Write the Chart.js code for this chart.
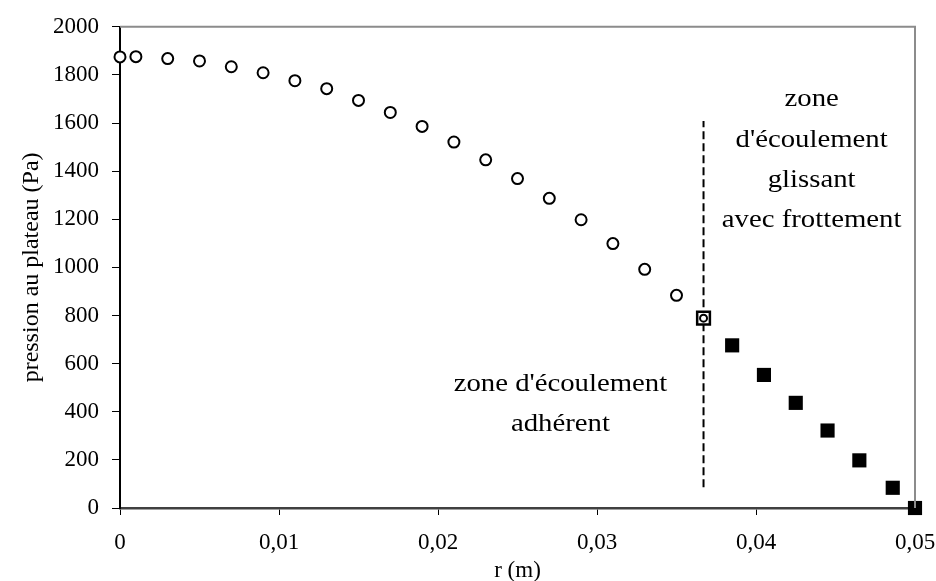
<!DOCTYPE html>
<html lang="fr">
<head>
<meta charset="UTF-8">
<title>pression au plateau</title>
<style>
  html, body { margin:0; padding:0; background:#fff; }
  #wrap { width:936px; height:581px; }
</style>
</head>
<body>
<div id="wrap"><canvas id="chart" width="936" height="581"></canvas></div>
<script src="https://cdn.jsdelivr.net/npm/chart.js"></script>
<script>
// zone adhérente (cercles)
const circleR = [0, 0.001, 0.003, 0.005, 0.007, 0.009, 0.011, 0.013, 0.015, 0.017, 0.019, 0.021, 0.023, 0.025, 0.027, 0.029, 0.031, 0.033, 0.035];
const circleP = [1875, 1876, 1868, 1858, 1834, 1809, 1776, 1743, 1694, 1644, 1586, 1521, 1447, 1369, 1287, 1198, 1099, 992, 884];
// point de transition
const transR = [0.0367];
const transP = [789];
// zone glissante (carrés)
const squareR = [0.0385, 0.0405, 0.0425, 0.0445, 0.0465, 0.0486, 0.05];
const squareP = [676, 553, 437, 322, 198, 84, 0];
// séparation des zones
const limitR = [0.0367, 0.0367];
const limitP = [86, 1608];

const xTicks = [0, 0.01, 0.02, 0.03, 0.04, 0.05];
const xTickLabels = ['0', '0,01', '0,02', '0,03', '0,04', '0,05'];

const serif = "'Liberation Serif', 'DejaVu Serif', serif";
const pts = (xs, ys) => xs.map((x, i) => ({ x: x, y: ys[i] }));

// texte un peu étiré en largeur, comme dans l'original
function wideText(ctx, t, x, y) {
  ctx.save();
  ctx.translate(x, y);
  ctx.scale(1.15, 1);
  ctx.fillText(t, 0, 0);
  ctx.restore();
}

// cadre haut/droite gris + textes des zones
const framePlugin = {
  id: 'frame',
  afterDraw(chart) {
    const { ctx, chartArea: a, scales: { x, y } } = chart;
    ctx.save();
    ctx.strokeStyle = '#8c8c8c';
    ctx.lineWidth = 2;
    ctx.beginPath();
    ctx.moveTo(a.left, a.top);
    ctx.lineTo(a.right, a.top);
    ctx.lineTo(a.right, a.bottom);
    ctx.stroke();

    ctx.fillStyle = '#000';
    ctx.font = '25px ' + serif;
    ctx.textAlign = 'center';
    ctx.textBaseline = 'alphabetic';
    ['zone d\'écoulement', 'adhérent'].forEach((t, i) => {
      wideText(ctx, t, x.getPixelForValue(0.0277), y.getPixelForValue(487 - i * 165));
    });
    ['zone', 'd\'écoulement', 'glissant', 'avec frottement'].forEach((t, i) => {
      wideText(ctx, t, x.getPixelForValue(0.0435), y.getPixelForValue(1670 - i * 168));
    });
    ctx.restore();
  }
};

new Chart(document.getElementById('chart'), {
  type: 'scatter',
  data: {
    datasets: [
      { data: pts(circleR, circleP), pointStyle: 'circle', pointRadius: 5.5, pointBackgroundColor: '#fff', pointBorderColor: '#000', pointBorderWidth: 2, clip: false },
      { data: pts(transR, transP), pointStyle: 'circle', pointRadius: 3.5, pointBackgroundColor: '#fff', pointBorderColor: '#000', pointBorderWidth: 2, clip: false },
      { data: pts(transR, transP), pointStyle: 'rect', pointRadius: 9, pointBackgroundColor: '#fff', pointBorderColor: '#000', pointBorderWidth: 2.5, clip: false },
      { data: pts(squareR, squareP), pointStyle: 'rect', pointRadius: 10, pointBackgroundColor: '#000', pointBorderColor: '#000', pointBorderWidth: 0, clip: false },
      { data: pts(limitR, limitP), showLine: true, pointRadius: 0, borderColor: '#000', borderWidth: 2, borderDash: [8, 4] }
    ]
  },
  options: {
    responsive: false,
    animation: false,
    layout: { padding: { top: 23, right: 21, left: 0, bottom: 0 } },
    plugins: { legend: { display: false }, tooltip: { enabled: false } },
    scales: {
      x: {
        type: 'linear', min: 0, max: 0.05,
        afterBuildTicks: s => { s.ticks = xTicks.map(v => ({ value: v })); },
        afterFit: s => { s.height = 73; s.paddingLeft = 0; s.paddingRight = 0; },
        ticks: { color: '#000', font: { family: serif, size: 23 }, padding: 14, maxRotation: 0, autoSkip: false,
                 callback: (v, i) => xTickLabels[i] },
        grid: { drawOnChartArea: false, drawTicks: true, tickLength: 7, color: '#000' },
        border: { display: true, color: '#404040', width: 2.5 },
        title: { display: true, text: 'r (m)', color: '#000', font: { family: serif, size: 23 }, padding: { top: 0, bottom: -4 } }
      },
      y: {
        min: 0, max: 2000,
        afterFit: s => { s.width = 120; },
        ticks: { stepSize: 200, color: '#000', font: { family: serif, size: 23 }, padding: 13,
                 callback: v => String(v) },
        grid: { drawOnChartArea: false, drawTicks: true, tickLength: 8, color: '#000' },
        border: { display: true, color: '#000', width: 2 },
        title: { display: true, text: 'pression au plateau (Pa)', color: '#000', font: { family: serif, size: 24 }, padding: { top: 17, bottom: 0 } }
      }
    }
  },
  plugins: [framePlugin]
});
</script>
</body>
</html>
